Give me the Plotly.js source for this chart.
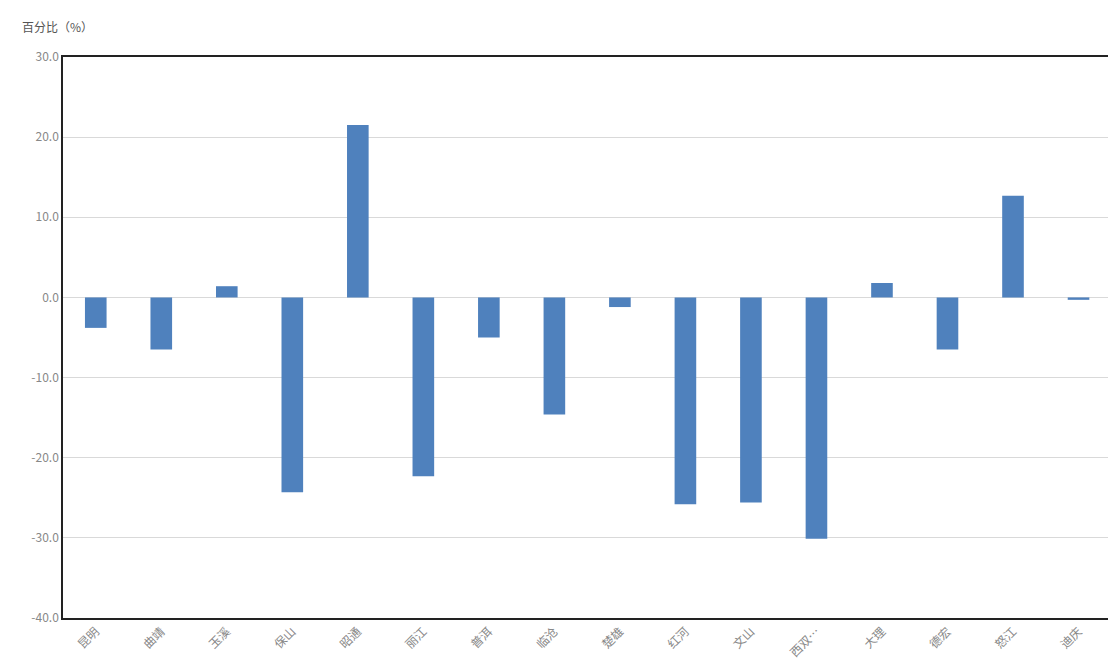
<!DOCTYPE html>
<html><head><meta charset="utf-8">
<script src="https://cdn.plot.ly/plotly-3.0.1.min.js"></script>
<style>body{margin:0;background:#fff}</style>
</head><body>
<div id="chart" style="width:1108px;height:672px"></div>
<script>
var regions = ['昆明','曲靖','玉溪','保山','昭通','丽江','普洱','临沧','楚雄','红河','文山','西双…','大理','德宏','怒江','迪庆']
var changes = [-3.8, -6.5, 1.4, -24.3, 21.5, -22.3, -5.0, -14.6, -1.2, -25.8, -25.6, -30.1, 1.8, -6.5, 12.7, -0.3]
var tickVals = [30, 20, 10, 0, -10, -20, -30, -40]

var trace = {
    type: 'bar',
    x: regions,
    y: changes,
    width: 0.33,
    marker: {color: '#4f81bd'},
    hoverinfo: 'x+y',
}

var layout = {
    width: 1108,
    height: 672,
    showlegend: false,
    plot_bgcolor: '#fff',
    paper_bgcolor: '#fff',
    margin: {l: 63, r: 0, t: 57, b: 54},
    font: {family: '"Noto Sans CJK SC", "DejaVu Sans", sans-serif', color: '#777', size: 11},
    annotations: [{
        text: '百分比（%）', xref: 'paper', yref: 'paper', x: -0.041, y: 1.035,
        xanchor: 'left', yanchor: 'bottom', showarrow: false,
        font: {size: 12, color: '#555'},
    }],
    xaxis: {
        type: 'category',
        range: [-0.5, 15.45],
        showgrid: false,
        showline: true, linecolor: '#222', linewidth: 1.5, mirror: true,
        tickangle: -45,
        ticks: '',
        tickfont: {size: 12, color: '#888'},
        fixedrange: true,
    },
    yaxis: {
        range: [-40, 30],
        tickvals: tickVals,
        ticktext: tickVals.map(function (v) { return v.toFixed(1) }),
        gridcolor: '#d9d9d9',
        zeroline: true, zerolinecolor: '#d9d9d9', zerolinewidth: 1,
        showline: true, linecolor: '#222', linewidth: 1.5,
        ticks: '',
        tickfont: {size: 12, color: '#888'},
        fixedrange: true,
    },
}

Plotly.newPlot('chart', [trace], layout, {displayModeBar: false})
</script>
</body></html>
